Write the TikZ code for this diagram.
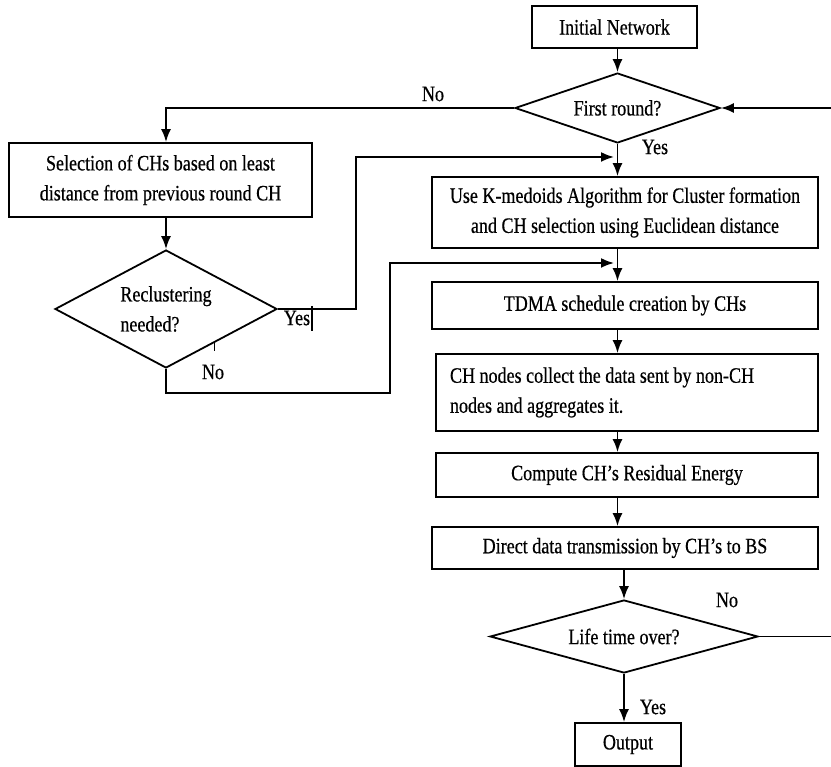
\documentclass[tikz,border=0pt]{standalone}
\usepackage{fontspec}
\setmainfont{Liberation Serif}[FakeStretch=0.82,FakeBold=0.5]
\usetikzlibrary{arrows.meta,positioning,calc,shapes.geometric}
\tikzstyle{block}=[draw,rectangle,inner sep=0pt,align=center]
\tikzstyle{decision}=[draw,diamond,inner sep=0pt,align=center]
\tikzstyle{arr}=[-{Latex[length=13pt,width=10pt]}]
\tikzstyle{lbl}=[inner sep=0pt]

\begin{document}
\begin{tikzpicture}[x=1pt,y=-1pt,line width=1.8pt,font=\fontsize{22}{30}\selectfont]
\useasboundingbox (0,0) rectangle (831,767);
% right column
\node [block, minimum width=165pt, minimum height=42pt] (init) at (614.5,27) {Initial Network};
\node [decision, minimum width=205pt, minimum height=70pt, aspect=2.9] (first) at (617.5,108) {First round?};
\node [block, minimum width=386pt, minimum height=71pt] (kmed) at (625,212.5) {Use K-medoids Algorithm for Cluster formation\\and CH selection using Euclidean distance};
\node [block, minimum width=386pt, minimum height=47pt] (tdma) at (625,305.5) {TDMA schedule creation by CHs};
\node [block, minimum height=77pt, inner xsep=14pt, text width=354pt, align=flush left] (coll) at (627,392.5) {CH nodes collect the data sent by non-CH\\nodes and aggregates it.};
\node [block, minimum width=382pt, minimum height=44pt] (comp) at (627,475) {Compute CH's Residual Energy};
\node [block, minimum width=386pt, minimum height=42pt] (direct) at (625,548) {Direct data transmission by CH's to BS};
\node [decision, minimum width=268pt, minimum height=73pt, aspect=3.6] (life) at (624,636.5) {Life time over?};
\node [block, minimum width=106pt, minimum height=43pt] (out) at (628,744.5) {Output};
% left column
\node [block, minimum width=303pt, minimum height=74pt] (sel) at (160.5,180) {Selection of CHs based on least\\distance from previous round CH};
\node [decision, minimum width=222pt, minimum height=118pt, aspect=1.9, align=left] (recl) at (166,309) {Reclustering\\needed?};
\coordinate (yesin) at (614,157);
\coordinate (noin) at (614,263);

% connectors
\draw [arr] (init.south -| first.north) -- (first.north);
\draw [arr] (first.south) -- (kmed.north -| first.south);
\draw [arr] (first.west) -| ([xshift=5.5pt]sel.north);
\draw [arr] (sel.south -| recl.north) -- (recl.north);
\draw [arr] (recl.east) -- ++(78,0) |- (yesin);
\draw [arr] (recl.south) -- ++(0,24) -- ++(224,0) |- (noin);
\draw [arr] (kmed.south -| first.south) -- (tdma.north -| first.south);
\draw [arr] (tdma.south -| first.south) -- (coll.north -| first.south);
\draw [arr] (coll.south -| first.south) -- (comp.north -| first.south);
\draw [arr] (comp.south -| first.south) -- (direct.north -| first.south);
\draw [arr] (direct.south -| life.north) -- (life.north);
\draw [arr] (life.south) -- (out.north -| life.south);
\draw [arr] (life.east) -- ++(75,0) |- (first.east);

% labels
\node [lbl] (lno1) at (433,94) {No};
\node [lbl] (lyes1) at (655,147) {Yes};
\node [lbl] (lyes2) at (297,318) {Yes};
\node [lbl] (lno2) at (213,372) {No};
\node [lbl] (lno3) at (727,600) {No};
\node [lbl] (lyes3) at (653,707) {Yes};
\draw [line width=1.6pt] (312,306) -- (312,331);
\draw [line width=0.8pt] (214,343) -- (214,351);
\end{tikzpicture}
\end{document}
